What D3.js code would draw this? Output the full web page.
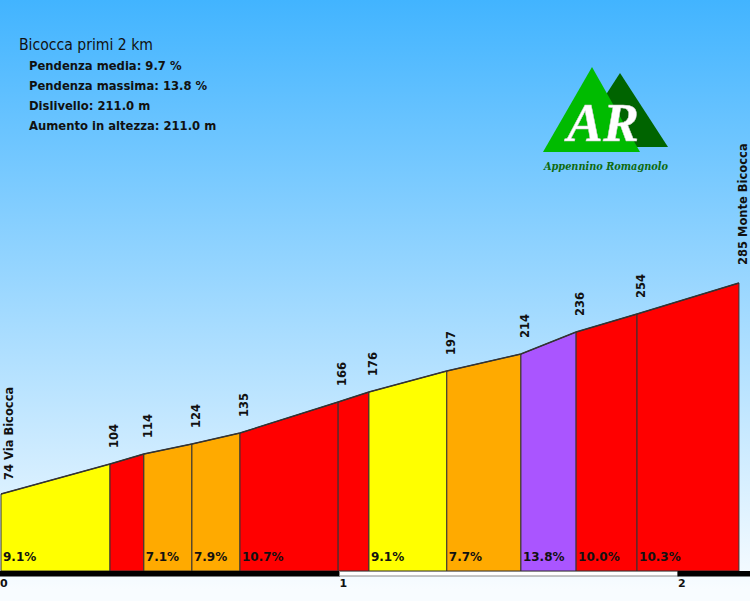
<!DOCTYPE html>
<html><head><meta charset="utf-8">
<script src="https://cdn.jsdelivr.net/npm/d3@7"></script>
<style>html,body{margin:0;padding:0;background:#fff}svg{display:block}</style>
</head><body>
<script>
// ---- data ----
const distances = [0, 0.322, 0.422, 0.564, 0.706, 0.996, 1.087, 1.317, 1.536, 1.699, 1.879, 2.180];
const elevations = [74, 104, 114, 124, 135, 166, 176, 197, 214, 236, 254, 285];
const pointNames = ["74 Via Bicocca", "104", "114", "124", "135", "166", "176", "197", "214", "236", "254", "285 Monte Bicocca"];
const gradients = [9.1, 10.0, 7.1, 7.9, 10.7, 11.0, 9.1, 7.7, 13.8, 10.0, 10.3];
const gradientLabels = ["9.1%", "", "7.1%", "7.9%", "10.7%", "", "9.1%", "7.7%", "13.8%", "10.0%", "10.3%"];
const kmTicks = [0, 1, 2];
const title = "Bicocca primi 2 km";
const stats = ["Pendenza media: 9.7 %", "Pendenza massima: 13.8 %", "Dislivello: 211.0 m", "Aumento in altezza: 211.0 m"];

const W = 750, H = 601;
const FONT = "DejaVu Sans, Verdana, sans-serif";
const svg = d3.select("body").append("svg").attr("width", W).attr("height", H);

const defs = svg.append("defs");
const bg = defs.append("linearGradient").attr("id", "bg").attr("x1", 0).attr("y1", 0).attr("x2", 0).attr("y2", 1);
bg.append("stop").attr("offset", "0%").attr("stop-color", "#42b4ff");
bg.append("stop").attr("offset", "98%").attr("stop-color", "#f8fcff");
bg.append("stop").attr("offset", "100%").attr("stop-color", "#f8fcff");
svg.append("rect").attr("width", W).attr("height", H).attr("fill", "url(#bg)");

const x = d3.scaleLinear().domain([0, 2]).range([1, 678]);
const y = d3.scaleLinear().domain([0, 285]).range([568, 283]);
const baseY = 571;

function color(g) {
  if (g >= 13) return "#aa55ff";
  if (g >= 10) return "#ff0000";
  if (g >= 9) return "#ffff00";
  return "#ffaa00";
}

const segs = gradients.map((g, i) => ({ i, g, x0: distances[i], x1: distances[i + 1], e0: elevations[i], e1: elevations[i + 1], label: gradientLabels[i] }));

svg.append("g").selectAll("path").data(segs).join("path")
  .attr("d", d => `M${x(d.x0)},${baseY}L${x(d.x0)},${y(d.e0)}L${x(d.x1)},${y(d.e1)}L${x(d.x1)},${baseY}Z`)
  .attr("fill", d => color(d.g))
  .attr("stroke", "#333")
  .attr("stroke-width", 1);

// top profile line
svg.append("path")
  .attr("d", d3.line().x((d, i) => x(distances[i])).y(d => y(d))(elevations))
  .attr("fill", "none").attr("stroke", "#333").attr("stroke-width", 1.4);

// gradient labels
svg.append("g").selectAll("text").data(segs.filter(d => d.label)).join("text")
  .attr("x", d => x(d.x0) + 2)
  .attr("y", 561)
  .attr("font-family", FONT)
  .attr("font-weight", "bold").attr("font-size", 12)
  .attr("fill", "#111")
  .text(d => d.label);

// elevation labels
svg.append("g").selectAll("text").data(elevations).join("text")
  .attr("transform", (d, i) => {
    const px = Math.max(x(distances[i]) + 8, 13);
    const py = y(d) - (i === 0 ? 14 : (i === elevations.length - 1 ? 18 : 16));
    return `translate(${Math.min(px, 747)},${py}) rotate(-90)`;
  })
  .attr("font-family", FONT)
  .attr("font-weight", "bold").attr("font-size", 11.5)
  .attr("fill", "#111")
  .text((d, i) => pointNames[i]);

// km axis bar
const bar = svg.append("g");
const barSegs = [[0, 1], [1, 2], [2, 2.3]];
barSegs.forEach((s, i) => {
  const x0 = i === 0 ? 0 : x(s[0]);
  const x1 = Math.min(x(s[1]), W);
  bar.append("rect").attr("x", x0).attr("y", 571.5).attr("width", x1 - x0).attr("height", 4.5)
    .attr("fill", i % 2 === 0 ? "#000" : "#fff")
    .attr("stroke", i % 2 === 0 ? "#000" : "#888").attr("stroke-width", 1);
});
svg.append("g").selectAll("text").data(kmTicks).join("text")
  .attr("x", d => x(d) - (d === 0 ? 1 : 0))
  .attr("y", 587)
  .attr("font-family", FONT)
  .attr("font-weight", "bold").attr("font-size", 11)
  .attr("fill", "#111")
  .text(d => d);

// title + stats
svg.append("text").attr("x", 19).attr("y", 50)
  .attr("font-family", FONT).attr("font-size", 15)
  .attr("textLength", 134).attr("lengthAdjust", "spacingAndGlyphs")
  .attr("fill", "#111").text(title);
svg.append("g").selectAll("text").data(stats).join("text")
  .attr("x", 29).attr("y", (d, i) => 70 + i * 20)
  .attr("font-family", FONT)
  .attr("font-weight", "bold").attr("font-size", 11.6)
  .attr("fill", "#111").text(d => d);

// logo
const logo = svg.append("g");
logo.append("path").attr("d", "M620,73L668,147L572,147Z").attr("fill", "#006400");
logo.append("path").attr("d", "M592,67L640,152L543,152Z").attr("fill", "#00bb00");
logo.append("text").attr("x", 603).attr("y", 141).attr("text-anchor", "middle")
  .attr("font-family", "Liberation Serif, serif").attr("font-style", "italic").attr("font-weight", "bold")
  .attr("font-size", 54).attr("fill", "#fff").attr("stroke", "#ccc").attr("stroke-width", 0.5)
  .text("AR");
logo.append("text").attr("x", 544).attr("y", 170)
  .attr("font-family", "DejaVu Serif, serif").attr("font-style", "italic").attr("font-weight", "bold")
  .attr("font-size", 11).attr("fill", "#0e6a0e")
  .attr("textLength", 124).attr("lengthAdjust", "spacingAndGlyphs")
  .text("Appennino Romagnolo");
</script>
</body></html>
